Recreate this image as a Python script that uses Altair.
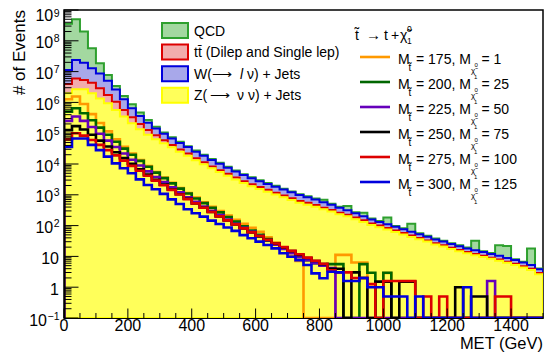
import math
import altair as alt
import pandas as pd

# ---------------- data (log10 of # of events per 25 GeV bin) -------------
BIN_WIDTH = 25
X_MAX = 1500
Y_MIN, Y_MAX = 0.1, 1e9

# stacked backgrounds: height of each stack level as drawn (QCD on top of W on top of ttbar on top of Z)
qcd_stack = [8.55, 8.70, 8.30, 7.76, 7.27, 6.89, 6.53, 6.21, 5.94, 5.67, 5.43, 5.21,
             5.02, 4.87, 4.72, 4.58, 4.44, 4.30, 4.16, 4.04, 3.91, 3.79, 3.67, 3.57,
             3.47, 3.38, 3.29, 3.20, 3.11, 3.02, 2.95, 2.88, 2.84, 2.71, 2.61, 2.64,
             2.43, 2.42, 2.23, 2.15, 2.26, 1.99, 1.91, 2.06, 1.75, 1.67, 1.58, 1.51,
             1.43, 1.36, 1.29, 1.51, 1.17, 1.11, 1.36, 1.34, 0.91, 0.83, 1.26, 0.61]
wjets_stack = [7.05, 7.38, 7.29, 7.11, 6.94, 6.70, 6.42, 6.10, 5.81, 5.56, 5.34, 5.15,
               4.98, 4.83, 4.68, 4.55, 4.40, 4.27, 4.13, 4.01, 3.88, 3.76, 3.64, 3.54,
               3.44, 3.35, 3.26, 3.17, 3.08, 2.99, 2.92, 2.85, 2.76, 2.68, 2.58, 2.50,
               2.40, 2.30, 2.20, 2.12, 2.04, 1.96, 1.88, 1.80, 1.72, 1.64, 1.55, 1.48,
               1.40, 1.33, 1.26, 1.20, 1.14, 1.08, 1.02, 0.95, 0.88, 0.80, 0.72, 0.58]
ttbar_stack = [6.60, 6.78, 6.73, 6.64, 6.46, 6.24, 6.02, 5.75, 5.52, 5.30, 5.10, 4.93,
               4.77, 4.62, 4.47, 4.34, 4.19, 4.06, 3.92, 3.80, 3.68, 3.56, 3.44, 3.34,
               3.25, 3.16, 3.07, 2.98, 2.89, 2.80, 2.74, 2.67, 2.58, 2.51, 2.42, 2.35,
               2.26, 2.17, 2.07, 2.00, 1.92, 1.84, 1.76, 1.68, 1.60, 1.52, 1.43, 1.36,
               1.28, 1.21, 1.14, 1.08, 1.02, 0.96, 0.90, 0.83, 0.76, 0.68, 0.60, 0.46]
zjets_stack = [6.30, 6.43, 6.43, 6.30, 6.13, 5.97, 5.75, 5.54, 5.32, 5.13, 4.95, 4.80,
               4.67, 4.54, 4.40, 4.27, 4.12, 3.99, 3.86, 3.74, 3.62, 3.50, 3.38, 3.28,
               3.19, 3.10, 3.01, 2.92, 2.83, 2.74, 2.68, 2.61, 2.53, 2.46, 2.37, 2.30,
               2.21, 2.12, 2.02, 1.95, 1.87, 1.79, 1.71, 1.63, 1.56, 1.48, 1.39, 1.32,
               1.24, 1.17, 1.10, 1.04, 0.98, 0.92, 0.86, 0.79, 0.72, 0.64, 0.56, 0.42]

# signal points (None = empty bin)
sig_175_1 = [6.10, 6.19, 5.95, 5.62, 5.33, 5.06, 4.80, 4.56, 4.34, 4.13, 3.93, 3.74,
             3.56, 3.39, 3.22, 3.06, 2.91, 2.76, 2.61, 2.47, 2.33, 2.19, 2.06, 1.93,
             1.80, 1.62, 1.45, 1.25, 1.00, 0.85, None, None, None, None, 1.05, 1.05,
             0.80, 0.80, None, None, 0.46, None, None, None, None, None, None, None,
             None, None, None, None, None, None, None, None, None, None, None, None]
sig_200_25 = [5.70, 5.81, 5.65, 5.42, 5.18, 4.95, 4.72, 4.50, 4.30, 4.10, 3.91, 3.72,
              3.54, 3.37, 3.20, 3.04, 2.88, 2.73, 2.58, 2.43, 2.28, 2.13, 1.98, 1.84,
              1.70, 1.56, 1.42, 1.28, 1.12, 0.98, 0.88, 0.78, 0.72, 0.75, 0.75, None,
              None, 0.75, 0.47, None, 0.47, None, None, None, None, None, None, None,
              None, None, None, None, None, None, None, None, None, None, None, None]
sig_225_50 = [5.40, 5.54, 5.40, 5.20, 4.98, 4.76, 4.55, 4.34, 4.14, 3.95, 3.76, 3.58,
              3.41, 3.24, 3.08, 2.92, 2.77, 2.62, 2.48, 2.34, 2.20, 2.06, 1.93, 1.80,
              1.66, 1.52, 1.38, 1.24, 1.10, 0.98, 0.88, 0.78, 0.70, 0.62, None, None,
              None, None, None, None, None, None, None, None, None, None, None, None,
              None, None, None, None, None, 0.20, None, None, None, None, None, None]
sig_250_75 = [5.10, 5.23, 5.12, 4.95, 4.76, 4.57, 4.38, 4.19, 4.01, 3.83, 3.66, 3.49,
              3.33, 3.17, 3.02, 2.87, 2.72, 2.58, 2.44, 2.30, 2.17, 2.04, 1.91, 1.78,
              1.65, 1.53, 1.41, 1.29, 1.17, 1.05, 0.95, 0.85, 0.75, 0.60, 0.60, None,
              0.48, 0.30, None, 0.18, 0.18, None, 0.18, 0.18, None, None, None, None,
              None, 0.00, None, -0.30, -0.30, None, None, None, None, None, None, None]
sig_275_100 = [4.80, 5.00, 4.92, 4.78, 4.62, 4.45, 4.28, 4.11, 3.94, 3.78, 3.62, 3.46,
               3.31, 3.16, 3.01, 2.86, 2.72, 2.58, 2.44, 2.30, 2.17, 2.04, 1.91, 1.78,
               1.66, 1.54, 1.42, 1.30, 1.18, 1.07, 0.96, 0.86, 0.76, 0.55, 0.48, 0.48,
               0.30, 0.30, 0.10, None, 0.20, 0.20, 0.20, 0.20, None, -0.30, None, -0.30,
               None, None, None, None, None, None, -0.30, -0.30, None, None, None, None]
sig_300_125 = [4.55, 4.83, 4.83, 4.62, 4.45, 4.24, 4.02, 3.86, 3.70, 3.50, 3.32, 3.18,
               3.03, 2.85, 2.70, 2.53, 2.40, 2.29, 2.16, 2.05, 1.94, 1.83, 1.69, 1.59,
               1.48, 1.37, 1.26, 1.10, 0.99, 0.88, 0.72, 0.45, 0.29, 0.50, 0.48, 0.20,
               0.20, 0.30, 0.00, 0.00, -0.30, -0.30, -0.30, None, -0.30, None, None, None,
               None, None, 0.00, None, None, None, None, None, None, None, None, None]

signal_labels = ["175", "200", "225", "250", "275", "300"]
signal_lsp = ["1", "25", "50", "75", "100", "125"]

x_tick_labels = [0, 200, 400, 600, 800, 1000, 1200, 1400]
y_tick_exps = [-1, 0, 1, 2, 3, 4, 5, 6, 7, 8, 9]

# ---------------- styling -------------------------------------------------------------
W_PX, H_PX = 479, 308
FONT = "Liberation Sans"

bkg_style = {  # fill, outline
    "QCD": ("#a3d8a0", "#2ea02e"),
    "W": ("#a8a8ea", "#0000dd"),
    "ttbar": ("#f2acac", "#dd0000"),
    "Z": ("#ffff5a", "#ffff00"),
}
sig_colors = ["#ff9900", "#006600", "#6600bb", "#000000", "#dd0000", "#0000dd"]

x_scale = alt.Scale(domain=[0, X_MAX], nice=False, zero=False)
y_scale = alt.Scale(type="log", domain=[Y_MIN, Y_MAX], nice=False)
x_axis = alt.Axis(labels=False, ticks=False, title=None, grid=False,
                  domainColor="black", domainWidth=1.2, zindex=1)
y_axis = alt.Axis(labels=False, ticks=False, title=None, grid=False,
                  domainColor="black", domainWidth=1.2, zindex=1)


def X(field):
    return alt.X(field, scale=x_scale, axis=x_axis)


def Y(field):
    return alt.Y(field, scale=y_scale, axis=y_axis)


def hist_points(logvals, with_floor=False):
    vals = [Y_MIN if v is None else max(10 ** v, Y_MIN) for v in logvals]
    rows = []
    if with_floor:
        rows.append((0, Y_MIN))
    for i, v in enumerate(vals):
        rows.append((i * BIN_WIDTH, v))
    rows.append((X_MAX, vals[-1]))
    if with_floor:
        rows.append((X_MAX, Y_MIN))
    return pd.DataFrame({"i": range(len(rows)), "x": [r[0] for r in rows],
                         "y": [r[1] for r in rows]})


layers = []
for name, arr in [("QCD", qcd_stack), ("W", wjets_stack), ("ttbar", ttbar_stack), ("Z", zjets_stack)]:
    fill, stroke = bkg_style[name]
    layers.append(
        alt.Chart(hist_points(arr)).mark_area(
            interpolate="step-after", fill=fill, stroke=stroke, strokeWidth=2,
            clip=True).encode(x=X("x:Q"), y=Y("y:Q"), y2=alt.datum(Y_MIN))
    )

for arr, col in zip([sig_175_1, sig_200_25, sig_225_50, sig_250_75, sig_275_100, sig_300_125], sig_colors):
    layers.append(
        alt.Chart(hist_points(arr, with_floor=True)).mark_line(
            interpolate="step-after", color=col, strokeWidth=2.6, clip=True,
            strokeJoin="miter").encode(x=X("x:Q"), y=Y("y:Q"), order="i:Q")
    )

# ---------------- axis ticks (drawn inside, ROOT style) ------------------------------------
y_major = pd.DataFrame({"v": [10.0 ** e for e in y_tick_exps]})
y_minor = pd.DataFrame({"v": [m * 10.0 ** e for e in y_tick_exps[:-1] for m in range(2, 10)]})
x_major = pd.DataFrame({"v": x_tick_labels})
x_minor = pd.DataFrame({"v": [v for v in range(0, X_MAX + 1, 50) if v % 200 != 0]})

layers += [
    alt.Chart(y_major).mark_rule(color="black", strokeWidth=1).encode(
        y=Y("v:Q"), x=alt.value(0), x2=alt.value(14.5)),
    alt.Chart(y_minor).mark_rule(color="black", strokeWidth=1).encode(
        y=Y("v:Q"), x=alt.value(0), x2=alt.value(7.5)),
    alt.Chart(x_major).mark_rule(color="black", strokeWidth=1).encode(
        x=X("v:Q"), y=alt.value(H_PX), y2=alt.value(H_PX - 9.5)),
    alt.Chart(x_minor).mark_rule(color="black", strokeWidth=1).encode(
        x=X("v:Q"), y=alt.value(H_PX), y2=alt.value(H_PX - 5)),
]

# ---------------- axis labels ----------------------------------------------------------------
x_lab = pd.DataFrame({"v": x_tick_labels, "t": [str(v) for v in x_tick_labels]})
layers.append(alt.Chart(x_lab).mark_text(font=FONT, fontSize=16, baseline="alphabetic",
                                         align="center").encode(
    x=X("v:Q"), y=alt.value(H_PX + 13), text="t:N"))

# y labels "10" + superscript exponent; pixel row of each decade on the log axis
decades = math.log10(Y_MAX) - math.log10(Y_MIN)
ylab_rows = []
for e in y_tick_exps:
    if e == 0:
        base, ex = "1", ""
    elif e == 1:
        base, ex = "10", ""
    else:
        base, ex = "10", ("\u2212" + str(-e)) if e < 0 else str(e)
    ex_w = 5.8 * len(ex) if e >= 0 else 12
    py = H_PX * (math.log10(Y_MAX) - e) / decades
    ylab_rows.append({"base": base, "ex": ex,
                      "bx": -5 - ex_w, "ex_x": -5 - ex_w + 0.5,
                      "by": max(py + 7.5, 11), "ey": max(py + 1.5, 7)})
ylab = pd.DataFrame(ylab_rows)
layers += [
    alt.Chart(ylab).mark_text(font=FONT, fontSize=16, align="right", baseline="alphabetic").encode(
        y=alt.Y("by:Q", scale=None), x=alt.X("bx:Q", scale=None), text="base:N"),
    alt.Chart(ylab).mark_text(font=FONT, fontSize=10.5, align="left", baseline="alphabetic").encode(
        y=alt.Y("ey:Q", scale=None), x=alt.X("ex_x:Q", scale=None), text="ex:N"),
]

# axis titles
layers += [
    alt.Chart(pd.DataFrame({"t": ["MET (GeV)"]})).mark_text(
        font=FONT, fontSize=16.5, align="right", baseline="alphabetic").encode(
        x=alt.value(W_PX), y=alt.value(H_PX + 31), text="t:N"),
    alt.Chart(pd.DataFrame({"t": ["# of Events"]})).mark_text(
        font=FONT, fontSize=17, align="right", baseline="alphabetic", angle=270).encode(
        x=alt.value(-39), y=alt.value(0), text="t:N"),
]

# ---------------- legend 1 : backgrounds --------------------------------------------------------
leg1_names = ["QCD", "ttbar", "W", "Z"]
L1_X0, L1_Y0, L1_DY = 98, 20.5, 21.6
leg1 = pd.DataFrame({
    "k": leg1_names,
    "yc": [L1_Y0 + i * L1_DY for i in range(4)],
})
leg1["y0"] = leg1["yc"] - 7.5
leg1["y1"] = leg1["yc"] + 7.5
leg1["fill"] = [bkg_style[k][0] for k in leg1_names]
leg1["stroke"] = [bkg_style[k][1] for k in leg1_names]
layers.append(alt.Chart(leg1).mark_rect(strokeWidth=2).encode(
    x=alt.value(L1_X0), x2=alt.value(L1_X0 + 26),
    y=alt.Y("y0:Q", scale=None), y2=alt.Y2("y1:Q"),
    fill=alt.Fill("fill:N", scale=None), stroke=alt.Stroke("stroke:N", scale=None)))

# text pieces: (text, x offset from text start, row, style, size)
leg1_pieces = [
    ("QCD", 0, 0, "normal", 14),
    ("tt\u0304 (Dilep and Single lep)", 0, 1, "normal", 14),
    ("W(", 0, 2, "normal", 14),
    ("\u27f6", 18, 2, "normal", 14),
    ("l", 46, 2, "italic", 14),
    ("\u03bd) + Jets", 53, 2, "normal", 14),
    ("Z(", 0, 3, "normal", 14),
    ("\u27f6", 16, 3, "normal", 14),
    ("\u03bd \u03bd) + Jets", 43, 3, "normal", 14),
]
leg1_text = pd.DataFrame(leg1_pieces, columns=["t", "x", "row", "style", "size"])
leg1_text["px"] = L1_X0 + 32 + leg1_text["x"]
leg1_text["py"] = L1_Y0 + leg1_text["row"] * L1_DY + 5
for (sty, size), sub in leg1_text.groupby(["style", "size"]):
    layers.append(alt.Chart(sub).mark_text(
        font=FONT, fontSize=int(size), align="left", baseline="alphabetic", fontStyle=sty).encode(
        x=alt.X("px:Q", scale=None), y=alt.Y("py:Q", scale=None), text="t:N"))

# ---------------- legend 2 : signals -----------------------------------------------------------
L2_X0, L2_Y0, L2_DY = 296, 47, 25
leg2 = pd.DataFrame({
    "mt": signal_labels, "ml": signal_lsp, "c": sig_colors,
    "yc": [L2_Y0 + i * L2_DY for i in range(6)],
})
leg2["y_base"] = leg2["yc"] + 6.5
leg2["y_sub"] = leg2["yc"] + 14
leg2["y_chi"] = leg2["yc"] + 16
leg2["y_sup0"] = leg2["yc"] + 10
leg2["y_sub1"] = leg2["yc"] + 21.5
leg2["t1"] = "= " + leg2["mt"] + ", M"
leg2["t2"] = "= " + leg2["ml"]
leg2["M"] = "M"
leg2["st"] = "t\u0303"
leg2["chi"] = "\u03c7\u0303"
leg2["zero"] = "0"
leg2["one"] = "1"

layers.append(alt.Chart(leg2).mark_rule(strokeWidth=2.6).encode(
    x=alt.value(L2_X0), x2=alt.value(L2_X0 + 30), y=alt.Y("yc:Q", scale=None),
    color=alt.Color("c:N", scale=None)))


def leg2_text(col, ycol, dx, size):
    return alt.Chart(leg2).mark_text(font=FONT, fontSize=size, align="left",
                                     baseline="alphabetic").encode(
        x=alt.value(L2_X0 + dx), y=alt.Y(f"{ycol}:Q", scale=None), text=f"{col}:N")


layers += [
    leg2_text("M", "y_base", 38, 14),
    leg2_text("st", "y_sub", 48.5, 10),
    leg2_text("t1", "y_base", 56, 14),
    leg2_text("chi", "y_chi", 111, 8),
    leg2_text("zero", "y_sup0", 114.5, 6),
    leg2_text("one", "y_sub1", 114, 6),
    leg2_text("t2", "y_base", 121.5, 14),
]

# legend 2 title: stop -> top + neutralino
title_pieces = pd.DataFrame({
    "t": ["t\u0303", "\u2192", "t", "+", "\u03c7\u0303"],
    "x": [291, 302, 320, 327, 336],
    "size": [14, 15, 14, 14, 14],
})
for size, sub in title_pieces.groupby("size"):
    layers.append(alt.Chart(sub).mark_text(font=FONT, fontSize=int(size), align="left",
                                           baseline="alphabetic").encode(
        x=alt.X("x:Q", scale=None), y=alt.value(29.5), text="t:N"))
title_idx = pd.DataFrame({"t": ["0", "1"], "y": [22, 33.5]})
layers.append(alt.Chart(title_idx).mark_text(font=FONT, fontSize=8.5, align="left",
                                             baseline="alphabetic").encode(
    x=alt.value(343), y=alt.Y("y:Q", scale=None), text="t:N"))

chart = alt.layer(*layers).properties(
    width=W_PX, height=H_PX,
    autosize=alt.AutoSizeParams(type="none"),
    padding={"left": 56, "top": 2, "right": 1, "bottom": 34},
).configure_view(stroke="black", strokeWidth=1.5)

chart.save("out.html", embed_options={"renderer": "svg", "actions": False})
